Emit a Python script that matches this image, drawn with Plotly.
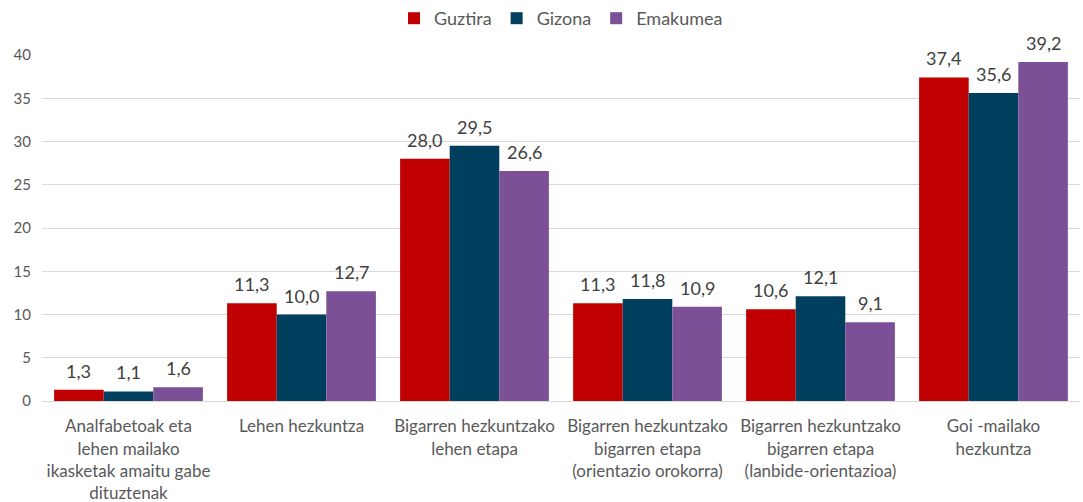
import plotly.graph_objects as go

categories = [
    "Analfabetoak eta<br>lehen mailako<br>ikasketak amaitu gabe<br>dituztenak",
    "Lehen hezkuntza",
    "Bigarren hezkuntzako<br>lehen etapa",
    "Bigarren hezkuntzako<br>bigarren etapa<br>(orientazio orokorra)",
    "Bigarren hezkuntzako<br>bigarren etapa<br>(lanbide-orientazioa)",
    "Goi -mailako<br>hezkuntza",
]
guztira = [1.3, 11.3, 28.0, 11.3, 10.6, 37.4]
gizona = [1.1, 10.0, 29.5, 11.8, 12.1, 35.6]
emakumea = [1.6, 12.7, 26.6, 10.9, 9.1, 39.2]
y_ticks = [0, 5, 10, 15, 20, 25, 30, 35, 40]

series = [("Guztira", guztira, "#C00000"),
          ("Gizona", gizona, "#003F5E"),
          ("Emakumea", emakumea, "#7B5096")]

font_family = "Lato, 'Open Sans', sans-serif"

W, H = 1083, 502
margin = dict(l=42, r=3, t=55, b=101)
bargap = 0.14
plot_w = W - margin["l"] - margin["r"]
bar_px = plot_w / len(categories) * (1 - bargap) / len(series)

fig = go.Figure()
for i, (name, vals, color) in enumerate(series):
    fig.add_trace(go.Bar(
        name=name, x=categories, y=vals, marker_color=color,
        marker_line_width=0,
    ))
    for c, v in zip(categories, vals):
        fig.add_annotation(
            x=c, y=v, text=f"{v:.1f}".replace(".", ","), showarrow=False,
            xanchor="center", yanchor="bottom", yshift=6,
            xshift=(i - 1) * bar_px,
            font=dict(size=18, color="#404040", family=font_family),
        )

fig.update_layout(
    width=W, height=H,
    barmode="group", bargap=bargap, bargroupgap=0,
    plot_bgcolor="white", paper_bgcolor="white",
    margin=dict(**margin, autoexpand=False),
    font=dict(family=font_family, color="#595959", size=14),
    legend=dict(orientation="h", x=0.5, xanchor="center", y=1.0, yanchor="top",
                yref="container", font=dict(size=18, color="#595959"),
                itemwidth=30),
)
fig.update_yaxes(range=[0, 40], tickvals=y_ticks, showgrid=True, gridcolor="#D9D9D9",
                 zeroline=False, showline=False, ticks="", ticklabelstandoff=10,
                 automargin=False, tickfont=dict(size=15, color="#595959"))
fig.update_xaxes(showline=True, linecolor="#D9D9D9", ticks="", automargin=False,
                 ticklabelstandoff=10, tickfont=dict(size=17, color="#595959"))

fig.write_html("out.html", config={"displayModeBar": False},
               post_script="document.body.style.margin='0';")
